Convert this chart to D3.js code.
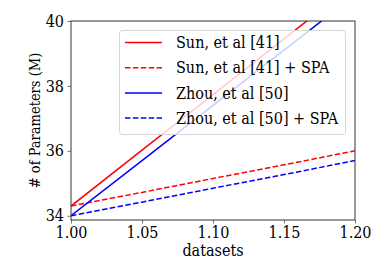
<!DOCTYPE html>
<html>
<head>
<meta charset="utf-8">
<script src="https://cdn.jsdelivr.net/npm/d3@7"></script>
<style>
  body { margin: 0; background: #fff; }
  svg text { font-family: "DejaVu Serif Condensed", "DejaVu Serif", serif; font-stretch: condensed; }
</style>
</head>
<body>
<div id="main"></div>
<script>
// chart data
const datasets = [1.00, 1.05, 1.10, 1.15, 1.20];
const sun = [34.30, 36.02, 37.73, 39.45, 41.16];
const sunSpa = [34.30, 34.72, 35.15, 35.57, 36.00];
const zhou = [34.00, 35.70, 37.40, 39.10, 40.80];
const zhouSpa = [34.00, 34.42, 34.85, 35.27, 35.70];
const seriesNames = ['Sun, et al [41]', 'Sun, et al [41] + SPA', 'Zhou, et al [50]', 'Zhou, et al [50] + SPA'];
const xTicks = [1.00, 1.05, 1.10, 1.15, 1.20];
const yTicks = [34, 36, 38, 40];
const xDomain = [1.00, 1.20];
const yDomain = [33.87, 40];

const width = 374, height = 280;
const margin = { left: 71, right: 19, top: 21, bottom: 60 };
const fontSize = '16px';

const series = [
    { name: seriesNames[0], values: sun, color: '#ff0000', dash: null },
    { name: seriesNames[1], values: sunSpa, color: '#ff0000', dash: '5.5,2.4' },
    { name: seriesNames[2], values: zhou, color: '#0000ff', dash: null },
    { name: seriesNames[3], values: zhouSpa, color: '#0000ff', dash: '5.5,2.4' }
];

const svg = d3.select('#main')
    .append('svg')
    .attr('width', width)
    .attr('height', height);

const xScale = d3.scaleLinear()
    .domain(xDomain)
    .range([margin.left, width - margin.right]);

const yScale = d3.scaleLinear()
    .domain(yDomain)
    .range([height - margin.bottom, margin.top]);

svg.append('clipPath')
    .attr('id', 'plot-clip')
    .append('rect')
    .attr('x', margin.left)
    .attr('y', margin.top)
    .attr('width', width - margin.left - margin.right)
    .attr('height', height - margin.top - margin.bottom);

const line = d3.line()
    .x((d, i) => xScale(datasets[i]))
    .y((d) => yScale(d));

svg.append('g')
    .attr('clip-path', 'url(#plot-clip)')
    .selectAll('path')
    .data(series)
    .enter()
    .append('path')
    .attr('fill', 'none')
    .attr('stroke', (d) => d.color)
    .attr('stroke-width', 1.5)
    .attr('stroke-dasharray', (d) => d.dash)
    .attr('d', (d) => line(d.values));

// axes
const xAxis = svg.append('g')
    .attr('transform', `translate(0, ${height - margin.bottom})`)
    .call(d3.axisBottom(xScale).tickValues(xTicks).tickFormat(d3.format('.2f')).tickSizeInner(3.5).tickSizeOuter(0).tickPadding(3));

const yAxis = svg.append('g')
    .attr('transform', `translate(${margin.left}, 0)`)
    .call(d3.axisLeft(yScale).tickValues(yTicks).tickFormat(d3.format('d')).tickSizeInner(3.5).tickSizeOuter(0).tickPadding(3.5));

[xAxis, yAxis].forEach((ax) => {
    ax.attr('font-family', null).attr('font-size', null);
    ax.select('.domain').remove();
    ax.selectAll('line').attr('stroke', '#555').attr('stroke-width', 0.8);
    ax.selectAll('text')
        .attr('fill', '#000')
        .style('font-size', fontSize);
});

// frame
svg.append('rect')
    .attr('x', margin.left)
    .attr('y', margin.top)
    .attr('width', width - margin.left - margin.right)
    .attr('height', height - margin.top - margin.bottom)
    .attr('fill', 'none')
    .attr('stroke', '#333')
    .attr('stroke-width', 1);

// axis labels
svg.append('text')
    .attr('x', (margin.left + width - margin.right) / 2)
    .attr('y', 256)
    .attr('text-anchor', 'middle')
    .style('font-size', fontSize)
    .text('datasets');

svg.append('text')
    .attr('transform', `translate(40, ${(margin.top + height - margin.bottom) / 2}) rotate(-90)`)
    .attr('text-anchor', 'middle')
    .style('font-size', '14.5px')
    .text('# of Parameters (M)');

// legend
const legend = svg.append('g');
legend.append('rect')
    .attr('x', 119.5)
    .attr('y', 30.5)
    .attr('width', 226)
    .attr('height', 104)
    .attr('rx', 3)
    .attr('fill', 'rgba(255,255,255,0.8)')
    .attr('stroke', '#d6d6d6')
    .attr('stroke-width', 1);

const rows = legend.selectAll('g.row')
    .data(series)
    .enter()
    .append('g')
    .attr('class', 'row')
    .attr('transform', (d, i) => `translate(0, ${42.5 + i * 25.2})`);

rows.append('line')
    .attr('x1', 125)
    .attr('x2', 162)
    .attr('stroke', (d) => d.color)
    .attr('stroke-width', 1.5)
    .attr('stroke-dasharray', (d) => d.dash);

rows.append('text')
    .attr('x', 176)
    .attr('dy', '0.35em')
    .style('font-size', fontSize)
    .text((d) => d.name);
</script>
</body>
</html>
